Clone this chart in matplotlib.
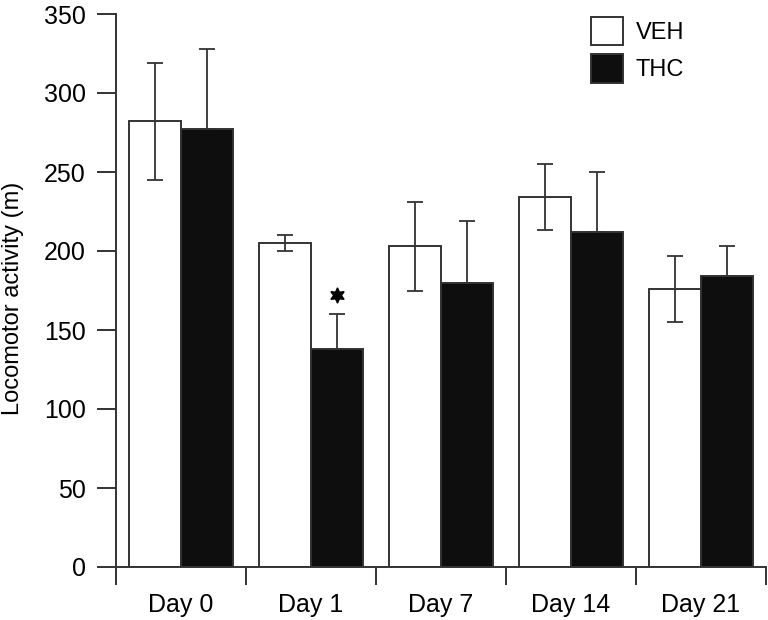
import numpy as np
import matplotlib
matplotlib.use("Agg")
import matplotlib.pyplot as plt
from matplotlib.patches import Patch

days = ["Day 0", "Day 1", "Day 7", "Day 14", "Day 21"]
veh_mean = [282, 205, 203, 234, 176]
veh_err = [37, 5, 28, 21, 21]
thc_mean = [277, 138, 180, 212, 184]
thc_err = [51, 22, 39, 38, 19]
significant = [False, True, False, False, False]

plt.rcParams['font.family'] = ['Liberation Sans', 'DejaVu Sans']
line_col = '#333333'
bar_fill = '#0e0e0e'

fig = plt.figure(figsize=(7.68, 6.2), dpi=100)
ax = fig.add_axes([116 / 768, 53 / 620, 650 / 768, 553 / 620])

x = np.arange(len(days)) + 0.5
w = 0.4

ax.bar(x - w / 2, veh_mean, w, color='white', edgecolor=line_col, linewidth=1.4)
ax.bar(x + w / 2, thc_mean, w, color=bar_fill, edgecolor=line_col, linewidth=1.4)

ax.errorbar(x - w / 2, veh_mean, yerr=veh_err, fmt='none', ecolor=line_col,
            elinewidth=1.3, capsize=5.8, capthick=1.3)
ax.errorbar(x + w / 2, thc_mean, yerr=[np.zeros(len(thc_err)), thc_err], fmt='none',
            ecolor=line_col, elinewidth=1.3, capsize=5.8, capthick=1.3)

# significance marker
for i, sig in enumerate(significant):
    if sig:
        ax.plot(x[i] + w / 2, thc_mean[i] + thc_err[i] + 12, marker=(6, 1, 0),
                markersize=11, color='black', linestyle='none')

ax.set_xlim(0, len(days))
ax.set_ylim(0, 350)
ax.set_yticks(np.arange(0, 351, 50))
ax.set_xticks(np.arange(0, len(days) + 1))
ax.set_xticklabels([])
ax.set_xticks(x, minor=True)
ax.set_xticklabels(days, minor=True)

for side in ['top', 'right']:
    ax.spines[side].set_visible(False)
for side in ['left', 'bottom']:
    ax.spines[side].set_color(line_col)
    ax.spines[side].set_linewidth(1.4)

ax.tick_params(axis='y', which='major', length=13.7, width=1.4, color=line_col,
               labelsize=18, pad=8)
ax.tick_params(axis='x', which='major', direction='out', length=13, width=1.4,
               color=line_col)
ax.tick_params(axis='x', which='minor', length=0, labelsize=18, pad=19)

ax.set_ylabel('Locomotor activity (m)', fontsize=17)
ax.yaxis.set_label_coords(-0.141, 0.486)

handles = [Patch(facecolor='white', edgecolor=line_col, linewidth=1.4),
           Patch(facecolor=bar_fill, edgecolor=line_col, linewidth=1.4)]
ax.legend(handles, ['VEH', 'THC'], loc='upper left',
          bbox_to_anchor=((591 - 116) / 650, (567 - 17) / 553),
          frameon=False, fontsize=17, borderpad=0, borderaxespad=0,
          handlelength=1.35, handleheight=1.45, handletextpad=0.55,
          labelspacing=0.4)

fig.savefig('out.png', dpi=100)
